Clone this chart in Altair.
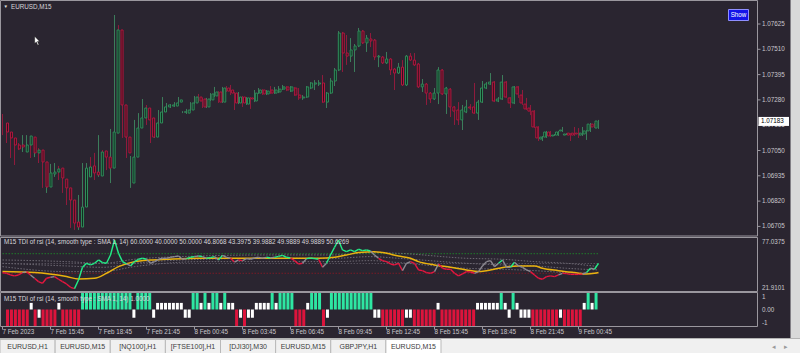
import altair as alt
import pandas as pd

# ---------------- data ----------------
# EURUSD M15 candles from 7 Feb 2023 12:45, prices in points (x 1e-5)
open_pts = [107175,107134,107107,107075,107075,107043,107075,107111,107039,107052,
            106998,106884,106943,106952,106970,106920,106880,106825,106725,106702,
            106793,106930,106980,106952,106934,107048,107020,106970,107129,107598,
            107257,107111,106902,107020,107152,107198,107243,107198,107111,107175,
            107225,107248,107252,107252,107270,107225,107220,107234,107266,107293,
            107284,107248,107280,107298,107316,107270,107334,107325,107311,107266,
            107293,107261,107289,107275,107311,107325,107307,107325,107311,107316,
            107329,107339,107320,107334,107302,107289,107293,107334,107352,107352,
            107357,107270,107311,107366,107416,107584,107493,107479,107507,107525,
            107593,107539,107557,107552,107475,107475,107448,107466,107420,107402,
            107429,107348,107479,107461,107443,107339,107352,107311,107284,107311,
            107416,107307,107329,107248,107234,107189,107225,107248,107248,107220,
            107270,107334,107352,107361,107275,107284,107361,107289,107266,107339,
            107302,107261,107243,107229,107157,107102,107111,107134,107116,107120,
            107139,107120,107129,107129,107129,107120,107125,107139,107170,107152]
high_pts = [107216,107175,107120,107084,107084,107120,107120,107116,107066,107061,
            107007,106961,106989,106993,106980,106930,106889,106834,106757,106848,
            106993,106993,107020,107039,107120,107052,107039,107148,107666,107620,
            107393,107120,107025,107189,107220,107284,107257,107243,107179,107234,
            107293,107266,107261,107270,107293,107229,107239,107270,107298,107307,
            107289,107289,107311,107339,107320,107339,107343,107348,107316,107316,
            107298,107293,107293,107325,107334,107329,107325,107343,107339,107343,
            107348,107343,107343,107339,107334,107302,107343,107361,107370,107370,
            107393,107316,107379,107425,107593,107589,107575,107561,107534,107607,
            107598,107575,107584,107557,107484,107479,107498,107470,107425,107448,
            107461,107484,107493,107493,107448,107375,107357,107316,107334,107429,
            107420,107339,107334,107252,107270,107257,107280,107261,107357,107280,
            107366,107361,107402,107366,107293,107393,107366,107293,107343,107343,
            107325,107289,107257,107234,107161,107116,107139,107139,107125,107139,
            107157,107129,107129,107157,107152,107157,107143,107175,107175,107189]
low_pts = [107120,107084,107016,106984,107052,107043,107066,107016,107020,106993,
           106880,106857,106907,106930,106916,106857,106802,106698,106689,106689,
           106789,106884,106939,106916,106930,107016,106961,106902,107125,107248,
           107107,107016,106880,107016,107143,107189,107166,107084,107107,107166,
           107220,107234,107243,107248,107266,107220,107216,107229,107261,107270,
           107243,107243,107275,107293,107266,107266,107316,107302,107234,107261,
           107248,107257,107239,107270,107307,107302,107302,107307,107307,107311,
           107325,107320,107316,107298,107280,107280,107289,107329,107325,107343,
           107266,107243,107307,107343,107411,107407,107439,107452,107407,107520,
           107534,107498,107520,107461,107429,107443,107443,107393,107325,107398,
           107343,107343,107457,107434,107334,107316,107257,107266,107280,107261,
           107302,107216,107202,107166,107166,107143,107220,107234,107216,107189,
           107266,107329,107348,107270,107270,107280,107289,107243,107261,107289,
           107257,107234,107211,107152,107093,107093,107107,107111,107116,107116,
           107134,107120,107093,107116,107107,107116,107098,107134,107152,107148]
close_pts = [107134,107107,107075,107057,107066,107075,107116,107039,107052,106998,
             106884,106948,106952,106966,106925,106880,106825,106720,106702,106793,
             106970,106975,106948,106939,107043,107020,106970,107134,107598,107257,
             107111,107039,107020,107152,107198,107243,107189,107111,107175,107225,
             107248,107257,107257,107266,107280,107225,107234,107266,107293,107275,
             107248,107284,107307,107316,107270,107334,107320,107311,107266,107293,
             107266,107289,107284,107311,107325,107307,107320,107311,107325,107329,
             107339,107325,107339,107302,107289,107293,107339,107357,107357,107357,
             107270,107311,107366,107416,107584,107493,107479,107507,107525,107593,
             107539,107561,107548,107475,107479,107448,107466,107416,107402,107429,
             107348,107479,107461,107439,107339,107352,107311,107284,107311,107416,
             107307,107334,107248,107229,107189,107234,107248,107243,107220,107270,
             107334,107352,107361,107275,107284,107361,107293,107266,107339,107307,
             107266,107239,107229,107157,107107,107111,107134,107116,107120,107134,
             107143,107125,107120,107120,107125,107129,107139,107170,107157,107184]

# TDI: RSI price line per bar
rsi = [40.7,40.0,38.3,37.3,38.3,40.7,41.7,38.3,34.9,31.5,
       29.8,34.9,35.9,36.6,33.9,31.5,29.1,25.7,24.3,33.2,
       46.1,50.2,48.5,50.2,53.6,50.9,50.2,58.7,74.0,60.4,
       51.9,49.5,47.5,51.9,54.3,55.3,54.3,50.2,51.9,54.3,
       55.3,55.3,56.3,57.0,57.7,54.3,55.0,56.3,57.0,57.7,
       57.0,55.3,56.0,57.0,53.6,58.3,56.3,55.3,51.5,53.6,
       52.9,55.0,54.3,55.6,56.3,55.3,56.3,55.6,56.3,57.3,
       58.3,56.3,55.6,52.9,49.5,50.2,55.0,55.6,55.0,54.3,
       46.1,50.2,58.7,66.5,74.0,63.8,62.1,63.8,62.1,64.5,
       63.1,63.8,62.8,58.7,55.3,52.9,51.9,49.5,48.5,50.2,
       42.7,50.2,51.9,50.2,43.4,42.7,40.7,40.0,41.7,49.5,
       45.1,44.1,44.1,40.0,37.3,39.3,41.7,41.3,40.0,41.7,
       47.5,51.9,52.9,46.8,50.2,53.6,46.1,46.1,51.2,47.5,
       46.1,43.4,41.7,38.3,34.9,33.9,36.6,37.3,36.6,38.3,
       40.0,39.6,38.9,38.9,38.9,39.3,40.7,45.1,44.1,50.2]

# TDI signal (yellow) line, read at these bars
signal_bar = [0,8,16,19,23,26,29,33,37,41,49,58,66,74,79,83,86,89,93,95,99,
              102,104,108,112,116,119,121,124,129,133,135,139,143,146,148,149]
signal_val = [41.7,40.7,36.6,34.2,34.9,40.0,46.8,51.9,53.6,54.3,55.3,55.3,55.3,55.3,55.3,
              56.3,58.7,61.1,62.1,61.1,57.7,55.3,51.9,48.5,46.1,43.4,41.7,42.7,45.1,47.5,
              47.5,45.1,42.7,40.7,39.3,40.0,40.7]

# volatility band (grey dotted) lines
band_bar = [0,16,25,33,50,66,83,92,99,116,125,133,141,149]
band_upper = [53.6,51.9,50.2,54.3,57.7,58.7,58.7,61.1,60.4,55.3,54.3,51.9,50.2,46.8]
band_mid = [50.2,47.5,46.1,50.2,54.3,55.3,55.3,57.0,55.3,50.2,48.5,47.5,45.1,43.4]
band_lower = [46.8,41.7,41.7,46.8,51.9,51.9,51.9,52.9,50.9,45.1,44.1,42.7,40.7,40.0]
levels = [60, 50, 40]
level_colors = ["#1f7a2a", "#55505c", "#7a1a26"]

# TDI histogram state per bar: 1 strong up, -1 strong down, 0.4 / -0.5 weak
hist = [-1,-1,-1,-1,-1,-1,0.4,-1,-0.5,-1,
        -1,-1,-1,0.4,-1,-1,-1,-1,-1,1,
        1,1,1,1,1,1,1,1,1,1,
        1,1,-0.5,1,1,1,1,-0.5,0.4,0.4,
        0.4,0.4,0.4,0.4,0.4,-0.5,-0.5,1,1,0.4,
        1,0.4,1,1,0.4,1,0.4,0.4,-1,-0.5,
        -1,-0.5,-0.5,0.4,0.4,0.4,0.4,1,0.4,1,
        1,1,1,-1,-1,-1,0.4,1,1,1,
        -1,-0.5,1,1,1,1,1,1,1,1,
        1,1,1,-0.5,-0.5,-1,-1,-1,-1,-1,
        -1,-0.5,-0.5,-1,-1,-1,-1,-1,-1,0.4,
        -1,-1,-1,-1,-1,-1,-1,-1,-1,0.4,
        0.4,0.4,0.4,0.4,0.4,1,0.4,-0.5,1,0.4,
        -0.5,-0.5,-0.5,-1,-1,-1,-1,-1,-1,-1,
        -0.5,-1,-1,-1,-1,-1,0.4,1,0.4,1]

price_ticks = [1.07625, 1.07510, 1.07395, 1.07280, 1.07165, 1.07050, 1.06935, 1.06820, 1.06705]
last_price = 1.07183
time_tick_bar = [0, 12, 24, 36, 48, 60, 72, 84, 96, 108, 120, 132, 144]
time_tick_label = ["7 Feb 2023", "7 Feb 15:45", "7 Feb 18:45", "7 Feb 21:45", "8 Feb 00:45",
                   "8 Feb 03:45", "8 Feb 06:45", "8 Feb 09:45", "8 Feb 12:45", "8 Feb 15:45",
                   "8 Feb 18:45", "8 Feb 21:45", "9 Feb 00:45"]
tabs = ["EURUSD,H1", "EURUSD,M15", "[NQ100],H1", "[FTSE100],H1", "[DJI30],M30",
        "EURUSD,M15", "GBPJPY,H1", "EURUSD,M15"]
active_tab = 7
tdi_title = ("M15 TDI of rsi  (14, smooth type :  SMA 1, 14) 60.0000 40.0000 50.0000 "
             "46.8068 43.3975 39.9882 49.9889 49.9889 50.6269")
hist_title = "M15 TDI of rsi  (14, smooth type :  SMA 1, 14) 1.0000"
tdi_max, tdi_min = 77.0375, 21.9101

# ---------------- styling ----------------
BG = "#2a2530"
FRAME = "#9a979e"
TXT = "#c9c6cc"
FONT = "Liberation Sans"
GREEN_RSI = "#22ee88"
RED_RSI = "#e6163f"
GREY_RSI = "#8d8a92"

X = alt.Scale(domain=[0, 200], range=[2.5, 802.5], zero=False, nice=False)
PY = alt.Scale(domain=[1.06705, 1.07625], range=[226.4, 24], zero=False, nice=False)
TY = alt.Scale(domain=[tdi_min, tdi_max], range=[291, 237], zero=False, nice=False)
HY = alt.Scale(domain=[-1, 1], range=[326, 293], zero=False, nice=False)

dummy = pd.DataFrame({"k": [0]})


def box(x1, x2, y1, y2, fill="transparent", stroke=None, sw=1):
    kw = dict(fill=fill)
    if stroke:
        kw.update(stroke=stroke, strokeWidth=sw)
    return alt.Chart(dummy).mark_rect(**kw).encode(
        x=alt.value(x1), x2=alt.value(x2), y=alt.value(y1), y2=alt.value(y2))


def label(x, y, s, size=6.3, color=TXT, align="left", weight="normal"):
    return alt.Chart(dummy).mark_text(
        text=s, fontSize=size, font=FONT, color=color, align=align,
        baseline="middle", fontWeight=weight).encode(x=alt.value(x), y=alt.value(y))


# candles
cd = pd.DataFrame({
    "i": list(range(len(open_pts))),
    "open": [v / 1e5 for v in open_pts],
    "high": [v / 1e5 for v in high_pts],
    "low": [v / 1e5 for v in low_pts],
    "close": [v / 1e5 for v in close_pts],
})
up = cd["close"] >= cd["open"]
cd["fill"] = ["#0f2c1e" if u else "#35101c" for u in up]
cd["stroke"] = ["#2f8c5a" if u else "#b3173f" for u in up]
cd["wick"] = ["#3c7d5b" if u else "#8f1b3c" for u in up]

wicks = alt.Chart(cd).mark_rule(strokeWidth=1).encode(
    x=alt.X("i:Q", scale=X, axis=None),
    y=alt.Y("low:Q", scale=PY, axis=None), y2="high:Q",
    color=alt.Color("wick:N", scale=None))
bodies = alt.Chart(cd).mark_bar(size=2, strokeWidth=1).encode(
    x=alt.X("i:Q", scale=X, axis=None),
    y=alt.Y("open:Q", scale=PY, axis=None), y2="close:Q",
    fill=alt.Fill("fill:N", scale=None), stroke=alt.Stroke("stroke:N", scale=None))

# TDI panel
def seg_color(h):
    return GREEN_RSI if h == 1 else (RED_RSI if h == -1 else GREY_RSI)

seg = pd.DataFrame({
    "x": list(range(len(rsi) - 1)), "x2": list(range(1, len(rsi))),
    "y": rsi[:-1], "y2": rsi[1:],
    "c": [seg_color(h) for h in hist[1:]],
})
rsi_line = alt.Chart(seg).mark_rule(strokeWidth=1.4).encode(
    x=alt.X("x:Q", scale=X, axis=None), x2="x2:Q",
    y=alt.Y("y:Q", scale=TY, axis=None), y2="y2:Q",
    color=alt.Color("c:N", scale=None))

sig = pd.DataFrame({"b": signal_bar, "v": signal_val})
sig_line = alt.Chart(sig).mark_line(color="#e9b20e", strokeWidth=1.5, interpolate="monotone").encode(
    x=alt.X("b:Q", scale=X, axis=None), y=alt.Y("v:Q", scale=TY, axis=None))

bands = pd.DataFrame({
    "b": band_bar * 3,
    "v": band_upper + band_mid + band_lower,
    "s": ["u"] * len(band_bar) + ["m"] * len(band_bar) + ["l"] * len(band_bar),
})
band_lines = alt.Chart(bands).mark_line(color="#6c6872", strokeWidth=1, strokeDash=[1.5, 1.5],
                                        interpolate="monotone").encode(
    x=alt.X("b:Q", scale=X, axis=None), y=alt.Y("v:Q", scale=TY, axis=None),
    detail="s:N")

lv = pd.DataFrame({"v": levels, "c": level_colors, "a": [0] * 3, "b": [len(rsi) - 1] * 3})
level_lines = alt.Chart(lv).mark_rule(strokeWidth=1, strokeDash=[1.5, 1.5]).encode(
    x=alt.X("a:Q", scale=X, axis=None), x2="b:Q",
    y=alt.Y("v:Q", scale=TY, axis=None), color=alt.Color("c:N", scale=None))

# histogram panel
hd = pd.DataFrame({"i": list(range(len(hist))), "v": hist, "z": [0] * len(hist)})
hd["c"] = ["#2ee6a2" if h == 1 else ("#dc143c" if h == -1 else "#ffffff") for h in hist]
hist_bars = alt.Chart(hd).mark_bar(size=3).encode(
    x=alt.X("i:Q", scale=X, axis=None),
    y=alt.Y("v:Q", scale=HY, axis=None), y2="z:Q",
    color=alt.Color("c:N", scale=None))

# price axis
pt = pd.DataFrame({"p": price_ticks, "t": [f"{p:.5f}" for p in price_ticks]})
price_labels = alt.Chart(pt).mark_text(align="left", baseline="middle", fontSize=6.3,
                                       font=FONT, color=TXT).encode(
    x=alt.value(762), y=alt.Y("p:Q", scale=PY, axis=None), text="t:N")
price_ticks_m = alt.Chart(pt).mark_rule(color=FRAME).encode(
    x=alt.value(757.5), x2=alt.value(760.5), y=alt.Y("p:Q", scale=PY, axis=None))
lp = pd.DataFrame({"p": [last_price], "t": [f"{last_price:.5f}"]})
lp_box = alt.Chart(lp).mark_bar(fill="#ffffff", size=9, orient="horizontal").encode(
    x=alt.value(758.5), x2=alt.value(789), y=alt.Y("p:Q", scale=PY, axis=None))
lp_text = alt.Chart(lp).mark_text(align="left", baseline="middle", fontSize=6.3,
                                  font=FONT, color="#000000").encode(
    x=alt.value(761), y=alt.Y("p:Q", scale=PY, axis=None), text="t:N")

# time axis
tt = pd.DataFrame({"b": time_tick_bar, "t": time_tick_label})
time_labels = alt.Chart(tt).mark_text(align="left", baseline="middle", fontSize=6.3,
                                      font=FONT, color=TXT).encode(
    x=alt.X("b:Q", scale=X, axis=None), y=alt.value(332), text="t:N")
time_ticks = alt.Chart(tt).mark_rule(color=FRAME).encode(
    x=alt.X("b:Q", scale=X, axis=None), y=alt.value(326.5), y2=alt.value(329.5))

# tabs
td = pd.DataFrame({"n": list(range(len(tabs))), "t": tabs})
td["f"] = ["#ffffff" if k == active_tab else "#f0f0f0" for k in td["n"]]
TABX = alt.Scale(domain=list(range(len(tabs))), range=[0, 441], paddingInner=0, paddingOuter=0)
tab_rects = alt.Chart(td).mark_bar(stroke="#b9b9b9", strokeWidth=1).encode(
    x=alt.X("n:O", scale=TABX, axis=None), y=alt.value(339.5), y2=alt.value(353.5),
    fill=alt.Fill("f:N", scale=None))
tab_text = alt.Chart(td).mark_text(fontSize=7, font=FONT, color="#3c3c3c", baseline="middle").encode(
    x=alt.X("n:O", scale=TABX, axis=None), y=alt.value(346.5), text="t:N")

# cursor
cursor = alt.Chart(dummy).mark_point(
    shape="M-0.6,-1 L-0.6,0.55 L-0.25,0.2 L0.05,0.9 L0.3,0.8 L0.0,0.1 L0.45,0.1 Z",
    filled=True, fill="#ffffff", stroke="#000000", strokeWidth=0.4, size=90, opacity=1).encode(
    x=alt.value(37.5), y=alt.value(41))

layers = [
    box(0, 800, 0, 338, fill=BG),
    box(790.5, 800, 0, 338, fill="#d9d9d9"),
    box(0, 800, 338, 353, fill="#f0f0f0"),
    box(0, 800, 338, 338.8, fill="#a0a0a0"),
    box(0.5, 757.5, 0.5, 236, stroke=FRAME),
    box(0.5, 757.5, 237.5, 291.5, stroke=FRAME),
    box(0.5, 757.5, 292.5, 326.5, stroke=FRAME),
    wicks, bodies,
    level_lines, band_lines, sig_line, rsi_line,
    hist_bars,
    price_ticks_m, price_labels, lp_box, lp_text,
    time_ticks, time_labels,
    label(762, 241.5, f"{tdi_max:.4f}"),
    label(762, 287.5, f"{tdi_min:.4f}"),
    label(762, 296.5, "1"),
    label(762, 310, "0.00"),
    label(762, 322.5, "-1"),
    label(4, 242, tdi_title, color="#d8d5da"),
    label(4, 298.5, hist_title, color="#d8d5da"),
    label(3.5, 6.5, "\u25bc", size=4.5, color="#e0e0e0"),
    label(11, 6.5, "EURUSD,M15", color="#d8d5da"),
    box(728.5, 748.5, 9.5, 20.5, fill="#1414e8", stroke="#8f8fff"),
    label(738.5, 15, "Show", size=6.3, color="#ffffff", align="center"),
    tab_rects, tab_text,
    label(774, 346.5, "\u25c2", size=7, color="#9a9a9a", align="center"),
    label(786, 346.5, "\u25b8", size=7, color="#9a9a9a", align="center"),
    cursor,
]

chart = alt.layer(*layers).resolve_scale(
    x="independent", y="independent", color="independent", fill="independent", stroke="independent"
).properties(
    width=800, height=353, background=BG, padding=0,
    autosize=alt.AutoSizeParams(type="none"),
).configure_view(strokeWidth=0)

chart.save("out.html", embed_options={"renderer": "svg", "actions": False})
